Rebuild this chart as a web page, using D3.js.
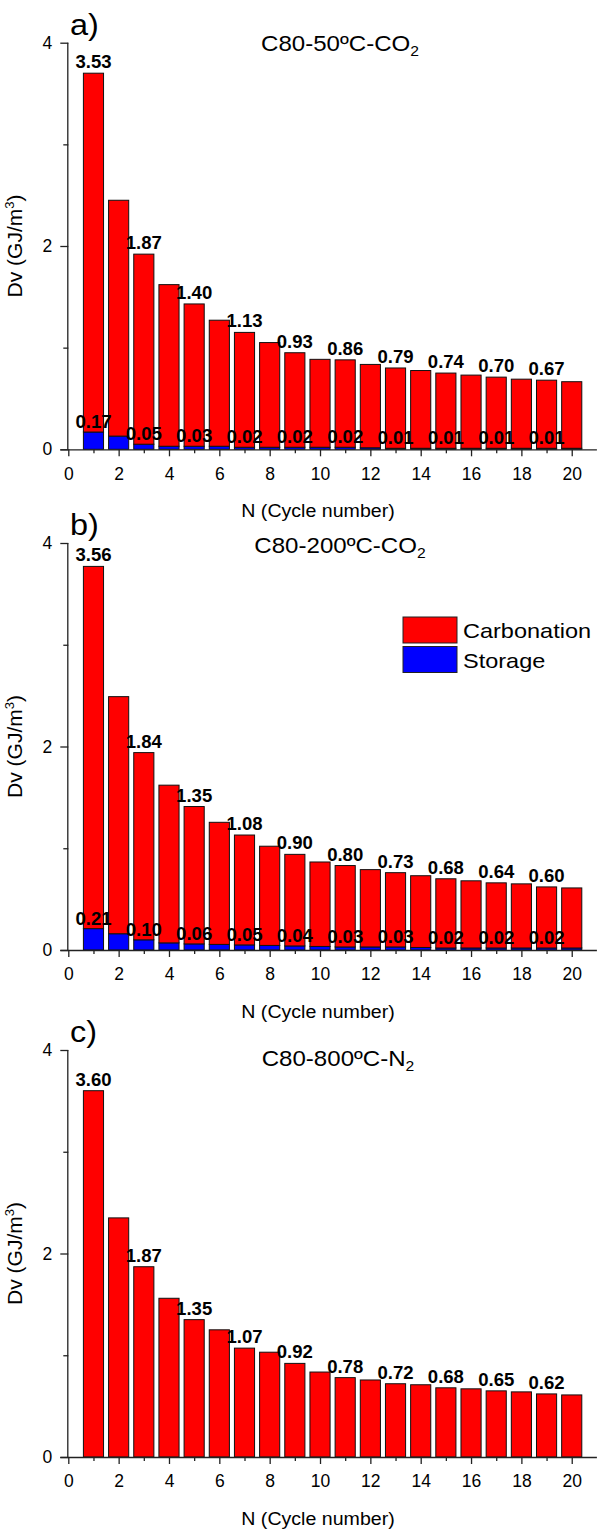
<!DOCTYPE html>
<html>
<head>
<meta charset="utf-8">
<script src="https://cdn.jsdelivr.net/npm/d3@7/dist/d3.min.js"></script>
<style>
  html, body { margin: 0; padding: 0; background: #fff; }
  svg { display: block; }
  text { font-family: "Liberation Sans", Arial, sans-serif; fill: #000; }
</style>
</head>
<body>
<svg id="chart" width="597" height="1529"></svg>
<script>
// Cycle numbers (x categories)
const cycles = [1, 2, 3, 4, 5, 6, 7, 8, 9, 10, 11, 12, 13, 14, 15, 16, 17, 18, 19, 20];

// a) C80-50ºC-CO2
const carbA = [3.53, 2.32, 1.87, 1.59, 1.40, 1.24, 1.13, 1.03, 0.93, 0.865, 0.86, 0.82, 0.79, 0.765, 0.74, 0.72, 0.70, 0.68, 0.67, 0.655];
const storA = [0.17, 0.13, 0.05, 0.03, 0.03, 0.03, 0.02, 0.02, 0.02, 0.02, 0.02, 0.015, 0.01, 0.01, 0.01, 0.01, 0.01, 0.01, 0.01, 0.01];

// b) C80-200ºC-CO2
const carbB = [3.56, 2.33, 1.84, 1.55, 1.35, 1.20, 1.08, 0.975, 0.90, 0.83, 0.80, 0.76, 0.73, 0.705, 0.68, 0.66, 0.64, 0.63, 0.60, 0.59];
const storB = [0.21, 0.16, 0.10, 0.07, 0.06, 0.055, 0.05, 0.045, 0.04, 0.035, 0.03, 0.03, 0.03, 0.025, 0.02, 0.02, 0.02, 0.02, 0.02, 0.02];

// c) C80-800ºC-N2 (no storage contribution)
const carbC = [3.60, 2.35, 1.87, 1.56, 1.35, 1.25, 1.07, 1.03, 0.92, 0.835, 0.78, 0.757, 0.72, 0.71, 0.68, 0.67, 0.65, 0.64, 0.62, 0.61];
const storC = [0, 0, 0, 0, 0, 0, 0, 0, 0, 0, 0, 0, 0, 0, 0, 0, 0, 0, 0, 0];

// Cycles that carry value labels
const labelledCycles = [1, 3, 5, 7, 9, 11, 13, 15, 17, 19];

// Axis ticks
const xMajorTicks = [0, 2, 4, 6, 8, 10, 12, 14, 16, 18, 20];
const xMinorTicks = [1, 3, 5, 7, 9, 11, 13, 15, 17, 19];
const yMajorTicks = [0, 2, 4];
const yMinorTicks = [1, 3];

const seriesNames = ["Carbonation", "Storage"];
const seriesColors = ["#ff0000", "#0000ff"];

const FONT = "'Liberation Sans', Arial, sans-serif";
const SX = 1.12;     // horizontal widening of titles and legend
const SX_LAB = 1.06; // horizontal widening of value labels

const panels = [
  { letter: "a)", title: "C80-50ºC-CO", sub: "2", carb: carbA, stor: storA, showStorLabels: true, legend: false,
    top: 42.7, bottom: 449.3, titleX: 340, titleY: 51 },
  { letter: "b)", title: "C80-200ºC-CO", sub: "2", carb: carbB, stor: storB, showStorLabels: true, legend: true,
    top: 543, bottom: 950, titleX: 340, titleY: 553 },
  { letter: "c)", title: "C80-800ºC-N", sub: "2", carb: carbC, stor: storC, showStorLabels: false, legend: false,
    top: 1050, bottom: 1457, titleX: 338, titleY: 1066 }
];

const svg = d3.select("#chart");
const x = d3.scaleLinear().domain([0, 21]).range([68.3, 596.9]);
const barW = x(0.8) - x(0);

// text placed at (tx, ty) and widened horizontally
function wideText(parent, tx, ty, size, sx = SX) {
  return parent.append("text")
    .attr("transform", `translate(${tx},${ty}) scale(${sx},1)`)
    .attr("font-size", size);
}

panels.forEach(p => {
  const y = d3.scaleLinear().domain([0, 4]).range([p.bottom, p.top]);
  const g = svg.append("g");

  const rows = cycles.map((c, i) => ({ c, carb: p.carb[i], stor: p.stor[i] }));
  const stack = d3.stack().keys(["stor", "carb"])(rows);

  // Stacked bars: storage at the base, carbonation on top
  stack.forEach(layer => {
    const color = layer.key === "stor" ? seriesColors[1] : seriesColors[0];
    g.selectAll(null)
      .data(layer.filter(d => d[1] - d[0] > 0))
      .enter().append("rect")
      .attr("x", d => x(d.data.c) - barW / 2)
      .attr("y", d => y(d[1]))
      .attr("width", barW)
      .attr("height", d => y(d[0]) - y(d[1]))
      .attr("fill", color)
      .attr("stroke", "#111")
      .attr("stroke-width", 1);
  });

  // Value labels on the odd cycles
  const lab = rows.filter(r => labelledCycles.includes(r.c));
  g.selectAll(null).data(lab).enter().append("text")
    .attr("transform", d => `translate(${x(d.c)},${y(d.stor + d.carb) - 5}) scale(${SX_LAB},1)`)
    .attr("text-anchor", "middle")
    .attr("font-weight", "bold")
    .attr("font-size", 17.5)
    .text(d => d.carb.toFixed(2));
  if (p.showStorLabels) {
    g.selectAll(null).data(lab).enter().append("text")
      .attr("transform", d => `translate(${x(d.c)},${y(d.stor) - 4}) scale(${SX_LAB},1)`)
      .attr("text-anchor", "middle")
      .attr("font-weight", "bold")
      .attr("font-size", 17.5)
      .text(d => d.stor.toFixed(2));
  }

  // X axis
  const xAxis = d3.axisBottom(x).tickValues(xMajorTicks).tickSize(7).tickPadding(11).tickFormat(d3.format("d"));
  const gx = g.append("g").attr("transform", `translate(0,${p.bottom})`).call(xAxis);
  gx.select(".domain").attr("d", `M${x(0) - 8},0.5H${x(21)}`);
  gx.selectAll(".tick text").attr("font-size", 17.5).attr("font-family", FONT);
  const xMinor = d3.axisBottom(x).tickValues(xMinorTicks).tickSize(4).tickFormat("");
  g.append("g").attr("transform", `translate(0,${p.bottom})`).call(xMinor).select(".domain").remove();

  // Y axis
  const yAxis = d3.axisLeft(y).tickValues(yMajorTicks).tickSize(8).tickPadding(8).tickFormat(d3.format("d"));
  const gy = g.append("g").attr("transform", `translate(${x(0)},0)`).call(yAxis);
  gy.select(".domain").attr("d", `M-0.5,${p.bottom}V${p.top}`);
  gy.selectAll(".tick text").attr("font-size", 17.5).attr("font-family", FONT);
  const yMinor = d3.axisLeft(y).tickValues(yMinorTicks).tickSize(5).tickFormat("");
  g.append("g").attr("transform", `translate(${x(0)},0)`).call(yMinor).select(".domain").remove();

  svg.selectAll(".domain, .tick line").attr("stroke", "#222").attr("stroke-width", 1.3);

  // Axis titles
  wideText(g, 318, p.bottom + 68, 17.5)
    .attr("text-anchor", "middle")
    .text("N (Cycle number)");
  const yt = g.append("text")
    .attr("transform", `translate(22,${(p.top + p.bottom) / 2}) rotate(-90)`)
    .attr("text-anchor", "middle").attr("font-size", 21);
  yt.append("tspan").text("Dv (GJ/m");
  yt.append("tspan").attr("font-size", 13).attr("dy", -8).text("3");
  yt.append("tspan").attr("dy", 8).text(")");

  // Panel letter and title
  wideText(g, 70, p.top - 8, 29).text(p.letter);
  const tt = wideText(g, p.titleX, p.titleY, 21.5).attr("text-anchor", "middle");
  tt.append("tspan").text(p.title);
  tt.append("tspan").attr("font-size", 14).attr("dy", 5).text(p.sub);

  // Legend
  if (p.legend) {
    const lg = g.append("g").attr("transform", "translate(403,617)");
    seriesNames.forEach((name, i) => {
      lg.append("rect").attr("x", 0).attr("y", i * 29.5).attr("width", 54).attr("height", 26)
        .attr("fill", seriesColors[i]).attr("stroke", "#222").attr("stroke-width", 1);
      wideText(lg, 60, i * 29.5 + 21, 21).text(name);
    });
  }
});
</script>
</body>
</html>
